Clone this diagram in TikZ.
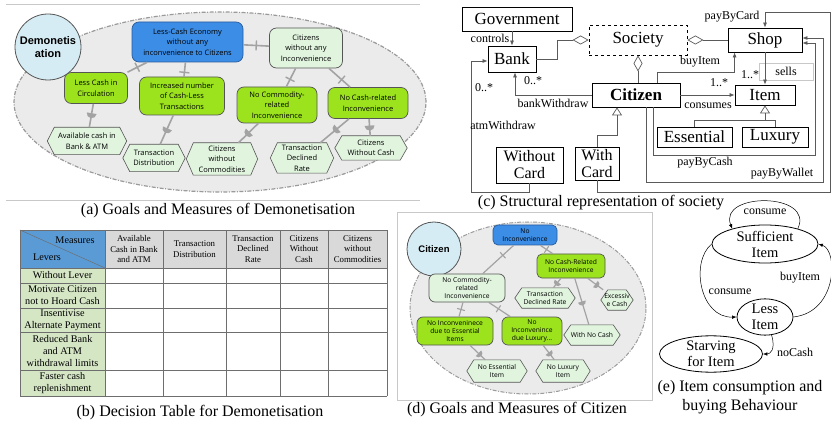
\documentclass[tikz,border=0pt]{standalone}
\usepackage{fontspec}
\setmainfont{Liberation Serif}
\newfontfamily\gmf{Open Sans}
\newfontfamily\arf{Liberation Sans}
\usetikzlibrary{arrows.meta,calc,decorations.markings,shapes.geometric}
\pgfdeclarelayer{back}
\pgfdeclarelayer{mid}
\pgfsetlayers{back,mid,main}
\definecolor{cBlue}{HTML}{3C8DE6}
\definecolor{cBlueDraw}{HTML}{2A5C9A}
\definecolor{cLime}{HTML}{9CE31E}
\definecolor{cLight}{HTML}{E0F4DE}
\definecolor{cBorder}{HTML}{555555}
\definecolor{cCirc}{HTML}{D6ECF4}
\definecolor{cEll}{HTML}{EBEBEB}
\definecolor{cEllDraw}{HTML}{9A9A9A}
\definecolor{cLink}{HTML}{A3A3A3}
\definecolor{cThBlue}{HTML}{5B9BD5}
\definecolor{cThGrey}{HTML}{D9D9D9}
\definecolor{cLever}{HTML}{D5E6C5}
\definecolor{cTLine}{HTML}{6E6E6E}
\definecolor{cULine}{HTML}{5A5A5A}
\definecolor{cFrame}{HTML}{C8C8C8}
\tikzset{
 gmtext/.style={font=\gmf\fontsize{7.5}{10.5}\selectfont},
 gmsmall/.style={font=\gmf\fontsize{6.7}{8.4}\selectfont},
 goalbox/.style={draw=cBorder, line width=0.7pt, rounded corners=7pt, align=center, inner sep=0pt, text=black},
 goalblue/.style={goalbox, fill=cBlue, draw=cBlueDraw},
 goallime/.style={goalbox, fill=cLime},
 goallight/.style={goalbox, fill=cLight},
 hexbox/.style={draw=none, inner sep=0pt, align=center},
 hexdraw/.style={draw=cBorder, line width=0.6pt, fill=cLight},
 actor/.style={circle, draw=cBorder, line width=0.8pt, fill=cCirc, align=center, inner sep=0pt, font=\arf\bfseries\fontsize{11}{13}\selectfont},
 bigell/.style={fill=cEll, draw=cEllDraw, line width=1.2pt, dash pattern=on 4pt off 1.5pt on 1pt off 1.5pt},
 clink/.style={draw=cLink, line width=1.6pt},
 clinks/.style={draw=cLink, line width=1.2pt},
 cbar/.style={postaction={decorate, decoration={markings, mark=at position #1 with {\draw[cLink, line width=1.4pt] (0,-5pt) -- (0,5pt);}}}},
 cbars/.style={postaction={decorate, decoration={markings, mark=at position #1 with {\draw[cLink, line width=1.1pt] (0,-4pt) -- (0,4pt);}}}},
 mdisc/.style={postaction={decorate, decoration={markings, mark=at position #1 with {\fill[cLink] (0,-5pt) arc[start angle=-90, end angle=90, radius=5pt] -- cycle;}}}},
 mdiscs/.style={postaction={decorate, decoration={markings, mark=at position #1 with {\fill[cLink] (0,-4pt) arc[start angle=-90, end angle=90, radius=4pt] -- cycle;}}}},
 frameline/.style={draw=cFrame, line width=0.8pt},
 caption/.style={font=\fontsize{16}{19}\selectfont, align=center, inner sep=0pt},
 thead/.style={font=\fontsize{8.8}{10.7}\selectfont, align=center, inner sep=0pt},
 tlever/.style={font=\fontsize{10.2}{12.3}\selectfont, align=center, inner sep=0pt},
 tgrid/.style={draw=cTLine, line width=0.8pt},
 ubox/.style={draw=black, line width=0.8pt, fill=white, inner sep=0pt, align=center, font=\fontsize{17}{18}\selectfont},
 ulbl/.style={font=\fontsize{12}{13}\selectfont, inner sep=0pt},
 uedge/.style={draw=cULine, line width=0.7pt},
 uarr/.style={uedge, -{Latex[length=5pt,width=4pt]}},
 agg/.style={uedge, {Diamond[open,length=16pt,width=9pt]}-},
 gen/.style={uedge, -{Triangle[open,length=8pt,width=10pt]}},
 est/.style={ellipse, draw=black, line width=0.8pt, inner sep=0pt, align=center, font=\fontsize{14.5}{16}\selectfont},
 earr/.style={draw=black, line width=0.5pt, -{Latex[length=4.5pt,width=3.5pt]}},
}
\newcommand\hexnode[6]{%
 \node[hexbox, #5, minimum width=#3pt, minimum height=#4pt] (#1) at (#2) {#6};
 \begin{pgfonlayer}{mid}
 \draw[hexdraw] (#1.west) -- ($(#1.north west)+(7,0)$) -- ($(#1.north east)+(-7,0)$) -- (#1.east) -- ($(#1.south east)+(-7,0)$) -- ($(#1.south west)+(7,0)$) -- cycle;
 \end{pgfonlayer}}
\begin{document}
\begin{tikzpicture}[x=1pt,y=-1pt]
\useasboundingbox (0,0) rectangle (831,425);

% ---------------- (a) ----------------
\draw[frameline] (6,4) -- (420,4);
\draw[frameline] (6,200) -- (420,200);
\begin{pgfonlayer}{back}
\draw[bigell] (220,102) ellipse [x radius=206pt, y radius=90pt];
\end{pgfonlayer}
\node[actor, minimum size=66pt] (demo) at (48,47) {Demonetis\\ation};
\node[goalblue, gmtext, minimum width=111pt, minimum height=40pt] (lce) at (187.5,42) {Less-Cash Economy\\without any\\inconvenience to Citizens};
\node[goallight, gmtext, minimum width=73pt, minimum height=40pt] (cwi) at (306,48) {Citizens\\without any\\Inconvenience};
\node[goallime, gmtext, minimum width=63pt, minimum height=31pt] (lcc) at (96,88) {Less Cash in\\Circulation};
\node[goallime, gmtext, minimum width=85pt, minimum height=38pt] (inc) at (182,96) {Increased number\\of Cash-Less\\Transactions};
\node[goallime, gmtext, minimum width=80pt, minimum height=36pt] (ncr) at (277,105) {No Commodity-\\related\\Inconvenience};
\node[goallime, gmtext, minimum width=80pt, minimum height=31pt] (ncash) at (368,103) {No Cash-related\\Inconvenience};
\hexnode{avc}{87,141}{79}{27}{gmtext}{Available cash in\\Bank \& ATM}
\hexnode{tdi}{154,158}{62}{27}{gmtext}{Transaction\\Distribution}
\hexnode{cwc}{222,159}{71}{32}{gmtext}{Citizens\\without\\Commodities}
\hexnode{tdr}{302,158}{63}{30}{gmtext}{Transaction\\Declined\\Rate}
\hexnode{cwo}{371,148}{72}{24}{gmtext}{Citizens\\Without Cash}
\draw[clink, cbar=0.5] (lce) -- (lcc);
\draw[clink, cbar=0.7] (lce) -- (inc);
\draw[clink, cbar=0.5] (lce) -- (cwi);
\draw[clink, cbar=0.6] (cwi) -- (ncr);
\draw[clink, cbar=0.6] (cwi) -- (ncash);
\draw[clink, mdisc=0.4] (lcc) -- (avc);
\draw[clink, mdisc=0.45] (inc) -- (tdi);
\draw[clink, mdisc=0.45] (ncr) -- (cwc);
\draw[clink, mdisc=0.4] (ncash) -- (tdr);
\draw[clink, mdisc=0.4] (ncash) -- (cwo);
\node[caption] (capa) at (218,211) {(a) Goals and Measures of Demonetisation};

% ---------------- (b) ----------------
\fill[cThBlue] (20,230) rectangle (105,268);
\fill[cThGrey] (105,230) rectangle (387,268);
\fill[cLever] (20,268) rectangle (105,396);
\draw[cTLine, line width=0.5pt] (20,230) -- (105,268);
\foreach \xx in {20,105,163,226,280,328,387} \draw[tgrid] (\xx,230) -- (\xx,396);
\foreach \yy in {230,268,283,308,332,370,396} \draw[tgrid] (20,\yy) -- (387,\yy);
\node[tlever] (tmeas) at (75,240) {Measures};
\node[tlever] (tlev) at (47,257) {Levers};
\node[thead] (h1) at (134,249) {Available\\Cash in Bank\\and ATM};
\node[thead] (h2) at (194.5,249) {Transaction\\Distribution};
\node[thead] (h3) at (253,249) {Transaction\\Declined\\Rate};
\node[thead] (h4) at (304,249) {Citizens\\Without\\Cash};
\node[thead] (h5) at (357.5,249) {Citizens\\without\\Commodities};
\node[tlever] (l1) at (62.5,275.5) {Without Lever};
\node[tlever] (l2) at (62.5,295.5) {Motivate Citizen\\not to Hoard Cash};
\node[tlever] (l3) at (62.5,320) {Insentivise\\Alternate Payment};
\node[tlever] (l4) at (62.5,351) {Reduced Bank\\and ATM\\withdrawal limits};
\node[tlever] (l5) at (62.5,383) {Faster cash\\replenishment};
\node[caption] (capb) at (200,413) {(b) Decision Table for Demonetisation};

% ---------------- (c) ----------------
\node[ubox] (gov) [minimum width=110pt, minimum height=24pt] at (517,19) {Government};
\node[ubox] (bank) [minimum width=48pt, minimum height=26pt] at (512,59) {Bank};
\node[ubox, dashed] (soc) [minimum width=98pt, minimum height=30pt] at (638,40) {Society};
\node[ubox] (shop) [minimum width=74pt, minimum height=24pt] at (765,40) {Shop};
\node[ubox, font=\bfseries\fontsize{17}{18}\selectfont] (cit) [minimum width=88pt, minimum height=24pt] at (636,95) {Citizen};
\node[ubox] (item) [minimum width=60pt, minimum height=20pt] at (765,95) {Item};
\node[ubox] (ess) [minimum width=75pt, minimum height=20pt] at (694.5,137) {Essential};
\node[ubox] (lux) [minimum width=66pt, minimum height=20pt] at (775,137) {Luxury};
\node[ubox, font=\fontsize{16}{17}\selectfont] (woc) [minimum width=67pt, minimum height=36pt] at (529.5,165) {Without\\Card};
\node[ubox, font=\fontsize{16}{17}\selectfont] (wc) [minimum width=44pt, minimum height=33pt] at (597,163.5) {With\\Card};
\node[draw=cFrame, line width=0.6pt, minimum width=54pt, minimum height=17pt, inner sep=0pt, font=\fontsize{12}{13}\selectfont] (sellsbox) at (786,71.5) {sells};
\draw[uarr] (bank.north |- gov.south) -- (bank.north);
\node[ulbl] (lcontrols) at (490,38) {controls};
\draw[agg] (soc.west) -- ++(-31,0) |- (bank.east);
\draw[agg] (soc.east) -- (shop.west);
\draw[agg] (soc.south) -- (soc.south |- cit.north);
\draw[uarr] (cit.east) -- (item.west);
\node[ulbl] (lm1) at (719,83) {1..*};
\node[ulbl] (lconsumes) at (708,106) {consumes};
\draw[uarr] (shop.south) -- (item.north);
\node[ulbl] (lm2) at (750,75) {1..*};
\draw[uarr] ($(cit.north)+(21,0)$) -- ++(0,-10) -| ($(shop.south west)+(7,0)$);
\node[ulbl] (lbuy) at (700,62) {buyItem};
\draw[uarr] (cit.west) -| ($(bank.south)+(3,0)$);
\node[ulbl] (lm3) at (533,81) {0..*};
\node[ulbl] (lbank) at (553,103) {bankWithdraw};
\draw[uarr] (woc.south) -- ++(0,9) -| ($(bank.west)+(-16,2)$) -- ($(bank.west)+(0,2)$);
\node[ulbl] (lm4) at (484,88) {0..*};
\node[ulbl] (latm) at (503,125) {atmWithdraw};
\draw[gen] (wc.north) |- ($(cit.south)+(-19,28)$) -- ($(cit.south)+(-19,0)$);
\draw[gen] (ess.north) |- ($(item.south)+(0,15)$) -- (item.south);
\draw[uedge] (lux.north) |- ($(item.south)+(0,15)$);
\draw[uarr] ($(cit.south)+(17,0)$) -- ++(0,48) -| ($(shop.east)+(13,3)$) -- ($(shop.east)+(0,3)$);
\draw[uarr] ($(cit.south)+(10,0)$) -- ++(0,75) -| ($(shop.east)+(21,-2)$) -- ($(shop.east)+(0,-2)$);
\draw[uarr] (wc.south) -- ++(0,12) -| ($(shop.north)+(65,-15)$) -| (shop.north);
\node[ulbl] (lcard) at (732,17) {payByCard};
\node[ulbl] (lcash) at (705,163) {payByCash};
\node[ulbl] (lwallet) at (782,174) {payByWallet};
\node[caption] (capc) at (601,203) {(c) Structural representation of society};

% ---------------- (d) ----------------
\draw[frameline] (397,212) rectangle (652,400);
\begin{pgfonlayer}{back}
\draw[bigell, line width=1pt] (528,308) ellipse [x radius=118pt, y radius=86pt];
\end{pgfonlayer}
\node[actor, minimum size=54pt, font=\arf\bfseries\fontsize{9.5}{11}\selectfont] (citd) at (434,249) {Citizen};
\node[goalblue, gmsmall, minimum width=64pt, minimum height=20pt, rounded corners=5pt] (nin) at (525,235) {No\\Inconvenience};
\node[goallime, gmsmall, minimum width=68pt, minimum height=24pt, rounded corners=5pt] (ncrd) at (571,266) {No Cash-Related\\Inconvenience};
\node[goallight, gmsmall, minimum width=76pt, minimum height=28pt, rounded corners=6pt] (ncomd) at (467,288) {No Commodity-\\related\\Inconvenience};
\node[goallime, gmsmall, minimum width=76pt, minimum height=28pt, rounded corners=6pt] (nie) at (455,331) {No Inconveninece\\due to Essential\\Items};
\node[goallime, gmsmall, minimum width=60pt, minimum height=28pt, rounded corners=6pt] (nil) at (532,331) {No\\Inconvenince\\due Luxury...};
\hexnode{tdrd}{545,298}{60}{20}{gmsmall}{Transaction\\Declined Rate}
\hexnode{exc}{617,300}{32}{20}{gmsmall}{Excessiv\\e Cash}
\hexnode{wnc}{592,335}{56}{20}{gmsmall}{With No Cash}
\hexnode{nei}{497,371}{60}{22}{gmsmall}{No Essential\\Item}
\hexnode{nli}{563,371}{54}{22}{gmsmall}{No Luxury\\Item}
\draw[clinks, cbars=0.35] (nin) -- (ncomd);
\draw[clinks, cbars=0.5] (nin) -- (ncrd);
\draw[clinks, cbars=0.5] (ncomd) -- (nie);
\draw[clinks, cbars=0.45] (ncomd) -- (nil);
\draw[clinks, mdiscs=0.4] (ncrd) -- (tdrd);
\draw[clinks, mdiscs=0.5] (ncrd) -- (exc);
\draw[clinks, mdiscs=0.5] (ncrd) -- (wnc);
\draw[clinks, mdiscs=0.55] (nie) -- (nei);
\draw[clinks, mdiscs=0.5] (nil) -- (nli);
\node[caption] (capd) at (517,410) {(d) Goals and Measures of Citizen};

% ---------------- (e) ----------------
\node[est, minimum width=106pt, minimum height=38pt] (suf) at (765,244) {Sufficient\\Item};
\node[est, minimum width=56pt, minimum height=34pt] (less) at (765,317) {Less\\Item};
\node[est, minimum width=103pt, minimum height=32pt] (starv) at (711,354) {Starving\\for Item};
\draw[earr] (suf.25) .. controls (815,192) and (718,192) .. (suf.155);
\node[ulbl] (le1) at (765,212) {consume};
\draw[earr] (suf.west) .. controls (690,262) and (700,318) .. (less.west);
\node[ulbl] (le2) at (730,292) {consume};
\draw[earr] (less.east) .. controls (838,312) and (838,250) .. (suf.east);
\node[ulbl] (le3) at (800,278) {buyItem};
\draw[earr] (less.-70) .. controls (776,350) and (770,354) .. (starv.east);
\node[ulbl] (le4) at (795,352) {noCash};
\node[caption] (cape) at (740,397) {(e) Item consumption and\\buying Behaviour};
\end{tikzpicture}
\end{document}
